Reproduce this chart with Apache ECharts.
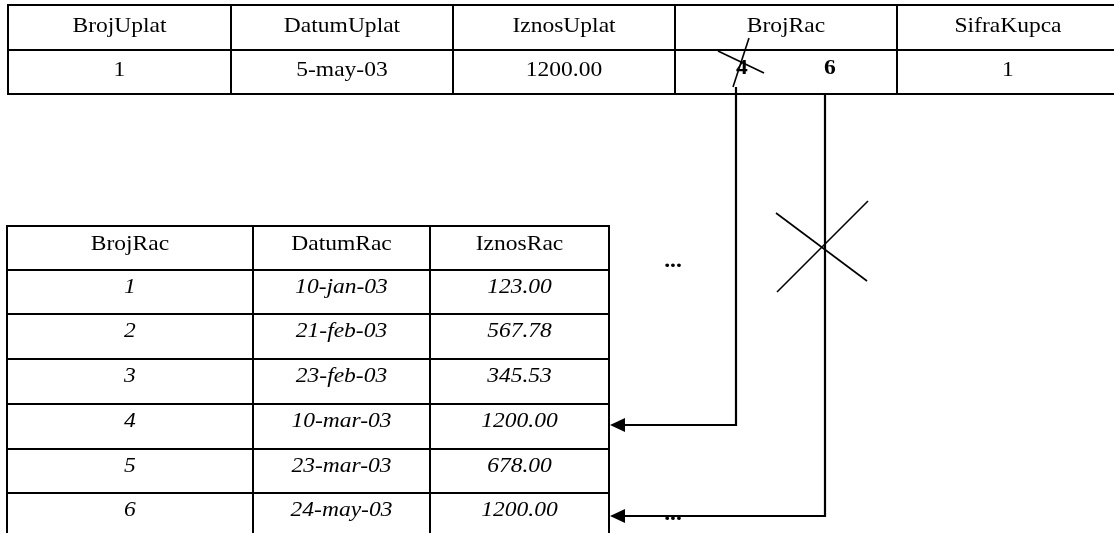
<!DOCTYPE html>
<html><head><meta charset="utf-8">
<script src="https://cdn.jsdelivr.net/npm/echarts@6/dist/echarts.min.js"></script>
<style>html,body{margin:0;padding:0;background:#fff}#c{width:1114px;height:533px}</style>
</head><body><div id="c"></div>
<script>
// ---- data ----
const uplataHeaders = ['BrojUplat', 'DatumUplat', 'IznosUplat', 'BrojRac', 'SifraKupca'];
const uplataRow = ['1', '5-may-03', '1200.00', '', '1'];
const brojRacOld = '4';
const brojRacNew = '6';
const racunHeaders = ['BrojRac', 'DatumRac', 'IznosRac'];
const brojRac = ['1', '2', '3', '4', '5', '6'];
const datumRac = ['10-jan-03', '21-feb-03', '23-feb-03', '10-mar-03', '23-mar-03', '24-may-03'];
const iznosRac = ['123.00', '567.78', '345.53', '1200.00', '678.00', '1200.00'];
const ellipsis = '...';
const linkedRows = [4, 6];   // BrojRac values pointed to (old, new)

// ---- layout (not data) ----
const TOP_X = [8, 231, 453, 675, 897, 1119];
const TOP_Y = [5, 50, 94];
const BOT_X = [7, 253, 430, 609];
const BOT_Y = [226, 270, 314, 359, 404, 449, 493, 538];
const FONT = 'Liberation Serif';
const FS = 21, SX = 1.12;

const cells = [];
uplataHeaders.forEach((t, i) => cells.push({x0: TOP_X[i], x1: TOP_X[i + 1], y0: TOP_Y[0], y1: TOP_Y[1], text: t, dy: 21}));
uplataRow.forEach((t, i) => cells.push({x0: TOP_X[i], x1: TOP_X[i + 1], y0: TOP_Y[1], y1: TOP_Y[2], text: t, dy: 20}));
racunHeaders.forEach((t, i) => cells.push({x0: BOT_X[i], x1: BOT_X[i + 1], y0: BOT_Y[0], y1: BOT_Y[1], text: t, dy: 18}));
[brojRac, datumRac, iznosRac].forEach((col, i) => col.forEach((t, r) => cells.push({
  x0: BOT_X[i], x1: BOT_X[i + 1], y0: BOT_Y[r + 1], y1: BOT_Y[r + 2], text: t, dy: 17, italic: true
})));

// free texts
const notes = [
  {x: 742, y: 69, text: brojRacOld, bold: true},
  {x: 830, y: 69, text: brojRacNew, bold: true},
  {x: 673, y: 262, text: ellipsis, bold: true},
  {x: 673, y: 515, text: ellipsis, bold: true}
];
// strike marks
const strokes = [
  [[733, 87], [749, 38]],
  [[718, 51], [764, 73]],
  [[776, 213], [867, 281]],
  [[868, 201], [777, 292]]
];
// reference arrows from BrojRac cell to rows
const linkX = [736, 825];
const links = linkedRows.map((r, k) => {
  const yy = (BOT_Y[r] + BOT_Y[r + 1]) / 2 + (k === 0 ? -1.5 : 0.5);
  return [[linkX[k], k === 0 ? 87 : 94], [linkX[k], yy], [BOT_X[3] + 1, yy]];
});

function fontOf(o) {
  return (o.italic ? 'italic ' : '') + (o.bold ? 'bold ' : '') + FS + 'px "' + FONT + '"';
}

const chart = echarts.init(document.getElementById('c'), null, {renderer: 'canvas'});
chart.setOption({
  animation: false,
  backgroundColor: '#fff',
  grid: {left: 0, right: 0, top: 0, bottom: 0},
  xAxis: {type: 'value', min: 0, max: 1114, show: false},
  yAxis: {type: 'value', min: 0, max: 533, inverse: true, show: false},
  series: [
    {
      type: 'custom', clip: true,
      data: cells.map(c => [c.x0, c.y0, c.x1, c.y1]),
      renderItem: function (params, api) {
        const c = cells[params.dataIndex];
        const p0 = api.coord([api.value(0), api.value(1)]);
        const p1 = api.coord([api.value(2), api.value(3)]);
        const ch = [{
          type: 'rect',
          shape: {x: p0[0], y: p0[1], width: p1[0] - p0[0], height: p1[1] - p0[1]},
          style: {fill: 'none', stroke: '#000', lineWidth: 2}
        }];
        if (c.text) ch.push({
          type: 'text', x: (p0[0] + p1[0]) / 2, y: p0[1] + c.dy, scaleX: SX,
          style: {text: c.text, x: 0, y: 0, align: 'center', verticalAlign: 'middle', font: fontOf(c), fill: '#000'}
        });
        return {type: 'group', children: ch};
      }
    },
    {
      type: 'custom', clip: true,
      data: notes.map(n => [n.x, n.y]),
      renderItem: function (params, api) {
        const n = notes[params.dataIndex];
        const p = api.coord([api.value(0), api.value(1)]);
        return {type: 'text', x: p[0], y: p[1], scaleX: SX,
          style: {text: n.text, x: 0, y: 0, align: 'center', verticalAlign: 'middle', font: fontOf(n), fill: '#000'}};
      }
    },
    {
      type: 'custom', clip: true,
      data: strokes.map(s => [s[0][0], s[0][1], s[1][0], s[1][1]]),
      renderItem: function (params, api) {
        const a = api.coord([api.value(0), api.value(1)]);
        const b = api.coord([api.value(2), api.value(3)]);
        return {type: 'line', shape: {x1: a[0], y1: a[1], x2: b[0], y2: b[1]}, style: {stroke: '#000', lineWidth: 1.6}};
      }
    },
    {
      type: 'custom', clip: true,
      data: links.map(l => [l[0][0], l[0][1], l[1][0], l[1][1], l[2][0], l[2][1]]),
      renderItem: function (params, api) {
        const a = api.coord([api.value(0), api.value(1)]);
        const b = api.coord([api.value(2), api.value(3)]);
        const t = api.coord([api.value(4), api.value(5)]);
        return {type: 'group', children: [
          {type: 'polyline', shape: {points: [a, b, [t[0] + 14, t[1]]]}, style: {fill: 'none', stroke: '#000', lineWidth: 2.2}},
          {type: 'polygon', shape: {points: [[t[0], t[1]], [t[0] + 15, t[1] - 7], [t[0] + 15, t[1] + 7]]}, style: {fill: '#000'}}
        ]};
      }
    }
  ]
});
</script></body></html>
